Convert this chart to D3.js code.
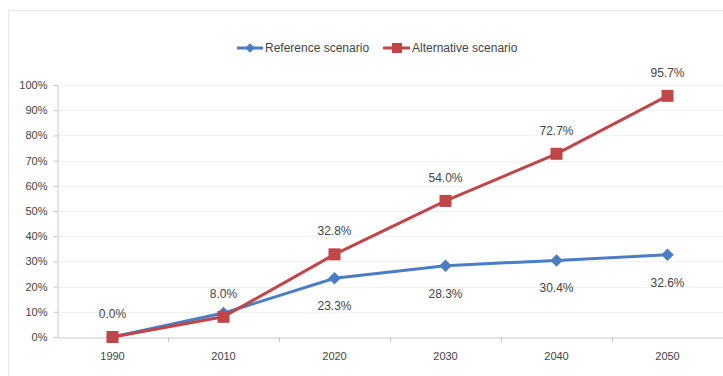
<!DOCTYPE html>
<html>
<head>
<meta charset="utf-8">
<script src="https://cdn.jsdelivr.net/npm/d3@7"></script>
<style>
  body { margin: 0; background: #fff; }
  text { font-family: "Liberation Sans", Arial, sans-serif; fill: #444; }
</style>
</head>
<body>
<div class="container"></div>
<script>
// chart data
var years = ["1990", "2010", "2020", "2030", "2040", "2050"];
var referenceValues = [0.0, 9.5, 23.3, 28.3, 30.4, 32.6];
var alternativeValues = [0.0, 8.0, 32.8, 54.0, 72.7, 95.7];
var yTicks = [0, 10, 20, 30, 40, 50, 60, 70, 80, 90, 100];

var opts = {
	width: 723,
	height: 376,
	left: 57,
	right: 723,
	top: 85,
	bottom: 337
};

var svg = d3.select(".container")
.append("svg")
.attr("width", opts.width)
.attr("height", opts.height);

// faint outer frame
svg.append("rect")
.attr("x", 8.5).attr("y", 10.5)
.attr("width", 730).attr("height", 400)
.attr("fill", "none")
.attr("stroke", "#e6e6e6");

var x = d3.scaleBand().domain(years).range([opts.left, opts.right]);
var y = d3.scaleLinear().domain([0, 100]).range([opts.bottom, opts.top]);

// gridlines
svg.append("g").selectAll("line").data(yTicks.slice(1)).enter().append("line")
.attr("x1", opts.left).attr("x2", opts.right)
.attr("y1", function(d){return Math.round(y(d)) + 0.5;})
.attr("y2", function(d){return Math.round(y(d)) + 0.5;})
.attr("stroke", "#f2f2f2");

// y axis
var yAxis = svg.append("g")
.attr("transform", "translate(" + (opts.left + 0.5) + ",0)")
.call(d3.axisLeft(y).tickValues(yTicks).tickSize(4).tickPadding(6).tickFormat(function(d){return d + "%";}));
yAxis.select(".domain").attr("stroke", "#c8c8c8");
yAxis.selectAll(".tick line").attr("stroke", "#c8c8c8");
yAxis.selectAll("text").style("font-size", "11px").attr("fill", "#444");

// x axis with tick marks between categories
var xAxis = svg.append("g")
.attr("transform", "translate(0," + (Math.round(opts.bottom) + 0.5) + ")")
.call(d3.axisBottom(x).tickSize(0).tickPadding(15));
xAxis.select(".domain").attr("stroke", "#c8c8c8");
xAxis.selectAll("text").style("font-size", "11px").attr("fill", "#444");
svg.append("g").selectAll("line").data(years.slice(1)).enter().append("line")
.attr("x1", function(d){return Math.round(x(d)) + 0.5;})
.attr("x2", function(d){return Math.round(x(d)) + 0.5;})
.attr("y1", opts.bottom).attr("y2", opts.bottom + 5)
.attr("stroke", "#c8c8c8");

var cx = function(d, i){return x(years[i]) + x.bandwidth() / 2;};
var line = d3.line().x(cx).y(function(d){return y(d);});

var blue = "#4a7dc4";
var red = "#c0464a";

// reference series
svg.append("path").datum(referenceValues)
.attr("d", line).attr("fill", "none")
.attr("stroke", blue).attr("stroke-width", 3);
svg.append("g").selectAll("path").data(referenceValues).enter().append("path")
.attr("d", d3.symbol().type(d3.symbolDiamond2).size(100))
.attr("transform", function(d, i){return "translate(" + cx(d, i) + "," + y(d) + ")";})
.attr("fill", blue);

// alternative series
svg.append("path").datum(alternativeValues)
.attr("d", line).attr("fill", "none")
.attr("stroke", red).attr("stroke-width", 3);
svg.append("g").selectAll("rect").data(alternativeValues).enter().append("rect")
.attr("x", function(d, i){return cx(d, i) - 6;})
.attr("y", function(d){return y(d) - 6;})
.attr("width", 12).attr("height", 12)
.attr("fill", red);

// data labels
svg.append("g").selectAll("text").data(alternativeValues).enter().append("text")
.attr("x", cx)
.attr("y", function(d){return y(d) - 19;})
.attr("text-anchor", "middle")
.style("font-size", "12px")
.text(function(d){return d.toFixed(1) + "%";});

svg.append("g").selectAll("text").data(referenceValues).enter().append("text")
.filter(function(d, i){return i >= 2;})
.attr("x", function(d){return x(years[referenceValues.indexOf(d)]) + x.bandwidth() / 2;})
.attr("y", function(d){return y(d) + 32;})
.attr("text-anchor", "middle")
.style("font-size", "12px")
.text(function(d){return d.toFixed(1) + "%";});

// legend
var legend = svg.append("g");
legend.append("line").attr("x1", 237).attr("x2", 263).attr("y1", 48).attr("y2", 48)
.attr("stroke", blue).attr("stroke-width", 3);
legend.append("path").attr("d", d3.symbol().type(d3.symbolDiamond2).size(60))
.attr("transform", "translate(250,48)").attr("fill", blue);
legend.append("text").attr("x", 265).attr("y", 52).style("font-size", "12px").text("Reference scenario");

legend.append("line").attr("x1", 383).attr("x2", 410).attr("y1", 48).attr("y2", 48)
.attr("stroke", red).attr("stroke-width", 3);
legend.append("rect").attr("x", 392).attr("y", 43).attr("width", 10).attr("height", 10).attr("fill", red);
legend.append("text").attr("x", 412).attr("y", 52).style("font-size", "12px").text("Alternative scenario");
</script>
</body>
</html>
